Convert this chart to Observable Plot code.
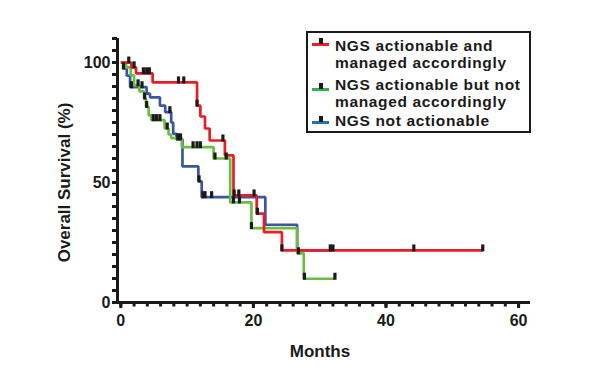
<!DOCTYPE html>
<html>
<head>
<meta charset="utf-8">
<script src="https://cdn.jsdelivr.net/npm/d3@7"></script>
<script src="https://cdn.jsdelivr.net/npm/@observablehq/plot@0.6"></script>
<style>
  html, body { margin: 0; padding: 0; background: #fff; }
  #wrap { position: relative; width: 592px; height: 387px; font-family: "Liberation Sans", Arial, sans-serif; color: #1a1a1a; }
  #legend { position: absolute; left: 306px; top: 31px; width: 221px; height: 98px; border: 2px solid #1a1a1a; background: #fff; }
  .line { position: absolute; left: 27px; font-size: 15.5px; font-weight: bold; line-height: 17px; letter-spacing: 0.65px; white-space: nowrap; }
  .glyph { position: absolute; left: 4px; width: 17px; height: 3px; }
  .glyph::after { content: ""; position: absolute; left: 6.5px; top: -5px; width: 4px; height: 6px; background: #1a1a1a; }
</style>
</head>
<body>
<div id="wrap">
  <div id="chart"></div>
  <div id="legend"></div>
</div>
<script>
// ---- data ----
const seriesNames = [
  "NGS actionable and managed accordingly",
  "NGS actionable but not managed accordingly",
  "NGS not actionable"
];
const legendLines = [
  ["NGS actionable and", "managed accordingly"],
  ["NGS actionable but not", "managed accordingly"],
  ["NGS not actionable"]
];
const lineColors = ["#ec1c24", "#6cbd45", "#3b55a5"];
const legendColors = ["#ec1c24", "#2fb34a", "#1b75bb"];

// Red: NGS actionable and managed accordingly
const redTime = [0, 1.6, 2.3, 4.8, 11.5, 12.0, 12.7, 13.4, 15.7, 17.0, 20.5, 21.6, 24.3, 54.6];
const redSurv = [100, 98, 95.5, 91.7, 82, 77.5, 72.5, 67.5, 61.3, 44.6, 37, 29.3, 21.7, 21.7];
const redCensor = [1.2, 2.0, 3.4, 3.9, 4.3, 8.7, 9.5, 11.5, 15.4, 17.1, 17.8, 20.1, 20.6, 24.3, 44.2, 54.6];

// Green: NGS actionable but not managed accordingly
const greenTime = [0, 0.8, 1.5, 2.0, 2.8, 3.5, 3.8, 4.2, 4.6, 6.6, 7.2, 7.6, 9.2, 14.0, 16.5, 19.7, 26.6, 27.6, 32.3];
const greenSurv = [100, 98, 94.6, 90.5, 88, 85, 81.5, 78, 76, 72.5, 70, 68.5, 64.7, 60, 41.7, 31, 20.5, 9.9, 9.9];
const greenCensor = [2.6, 3.6, 3.9, 4.9, 5.4, 5.9, 7.0, 10.9, 11.5, 12.0, 14.2, 15.9, 17.0, 17.9, 19.7, 26.8, 27.7, 32.3];

// Blue: NGS not actionable
const blueTime = [0, 0.4, 0.9, 1.4, 3.9, 4.4, 5.9, 6.7, 7.6, 7.9, 8.4, 9.3, 11.7, 12.2, 21.8, 26.6, 31.9];
const blueSurv = [100, 97.5, 94.5, 89.7, 87, 85.5, 82, 79.3, 75, 70.3, 68, 56.7, 50.5, 43.9, 32.4, 21.7, 21.7];
const blueCensor = [0.4, 1.6, 3.2, 7.4, 8.6, 9.0, 11.8, 12.4, 12.7, 13.7, 31.6, 32.0];

const xTicksMajor = [0, 20, 40, 60];
const xTicksMinor = d3.range(0, 61, 2);
const yTicksMajor = [0, 50, 100];
const yTicksMinor = d3.range(0, 111, 5);
const xDomain = [-0.5, 61.8];
const yDomain = [0, 110];
const xLabel = "Months";
const yLabel = "Overall Survival (%)";

// ---- build tables ----
const series = [
  {name: seriesNames[0], time: redTime, surv: redSurv, censor: redCensor},
  {name: seriesNames[1], time: greenTime, surv: greenSurv, censor: greenCensor},
  {name: seriesNames[2], time: blueTime, surv: blueSurv, censor: blueCensor}
];
const drawOrder = [2, 1, 0];
const lineRows = [];
const censorRows = [];
for (const k of drawOrder) {
  const s = series[k];
  s.time.forEach((t, i) => lineRows.push({series: s.name, t, s: s.surv[i]}));
  for (const c of s.censor) {
    let v = s.surv[0];
    for (let i = 0; i < s.time.length; i++) if (s.time[i] <= c) v = s.surv[i];
    censorRows.push({series: s.name, t: c, s: v});
  }
}

// small upright tick sitting on the curve
const censorSymbol = {
  draw(ctx) {
    ctx.moveTo(-1.6, -6); ctx.lineTo(1.6, -6); ctx.lineTo(1.6, 1); ctx.lineTo(-1.6, 1); ctx.closePath();
  }
};

const ink = "#1a1a1a";
const chart = Plot.plot({
  width: 592,
  height: 387,
  marginLeft: 117,
  marginRight: 62,
  marginTop: 38,
  marginBottom: 85,
  style: {background: "#fff", fontFamily: "'Liberation Sans', Arial, sans-serif", color: ink, overflow: "visible"},
  x: {domain: xDomain},
  y: {domain: yDomain},
  color: {domain: seriesNames, range: lineColors},
  marks: [
    Plot.line(lineRows, {x: "t", y: "s", z: "series", stroke: "series", curve: "step-after", strokeWidth: 2.7, strokeLinejoin: "miter", strokeLinecap: "butt"}),
    Plot.dot(censorRows, {x: "t", y: "s", symbol: censorSymbol, fill: ink, stroke: null, r: 3}),
    Plot.ruleY([yDomain[0]], {stroke: ink, strokeWidth: 3}),
    Plot.ruleX([xDomain[0]], {stroke: ink, strokeWidth: 3}),
    Plot.axisX({ticks: xTicksMinor, tickSize: 4.5, strokeWidth: 3, tickFormat: () => "", label: null, stroke: ink}),
    Plot.axisX({ticks: xTicksMajor, tickSize: 6, tickPadding: 6, strokeWidth: 3, label: null, fontSize: 16, fontWeight: "bold", fill: ink, stroke: ink}),
    Plot.axisY({ticks: yTicksMinor, tickSize: 5, strokeWidth: 3, tickFormat: () => "", label: null, stroke: ink}),
    Plot.axisY({ticks: yTicksMajor, tickSize: 5, tickPadding: 2, strokeWidth: 3, label: null, fontSize: 16, fontWeight: "bold", fill: ink, stroke: ink}),
    Plot.text([xLabel], {frameAnchor: "bottom", lineAnchor: "bottom", dy: 54, dx: -4, fontSize: 17, fontWeight: "bold", fill: ink}),
    Plot.text([yLabel], {frameAnchor: "left", textAnchor: "middle", lineAnchor: "middle", rotate: -90, dx: -53, dy: 12, fontSize: 17, fontWeight: "bold", fill: ink})
  ]
});
document.getElementById("chart").appendChild(chart);

// ---- legend ----
const legend = document.getElementById("legend");
const itemTops = [3.5, 42.5, 78.5];    // first text line top inside the box
const glyphTops = [9.5, 54.5, 87.5];   // glyph line position inside the box
const lineStep = 17;
legendLines.forEach((lines, i) => {
  const g = document.createElement("div");
  g.className = "glyph";
  g.style.top = glyphTops[i] + "px";
  g.style.background = legendColors[i];
  legend.appendChild(g);
  lines.forEach((txt, j) => {
    const t = document.createElement("div");
    t.className = "line";
    t.style.top = (itemTops[i] + j * lineStep) + "px";
    t.textContent = txt;
    legend.appendChild(t);
  });
});
</script>
</body>
</html>
